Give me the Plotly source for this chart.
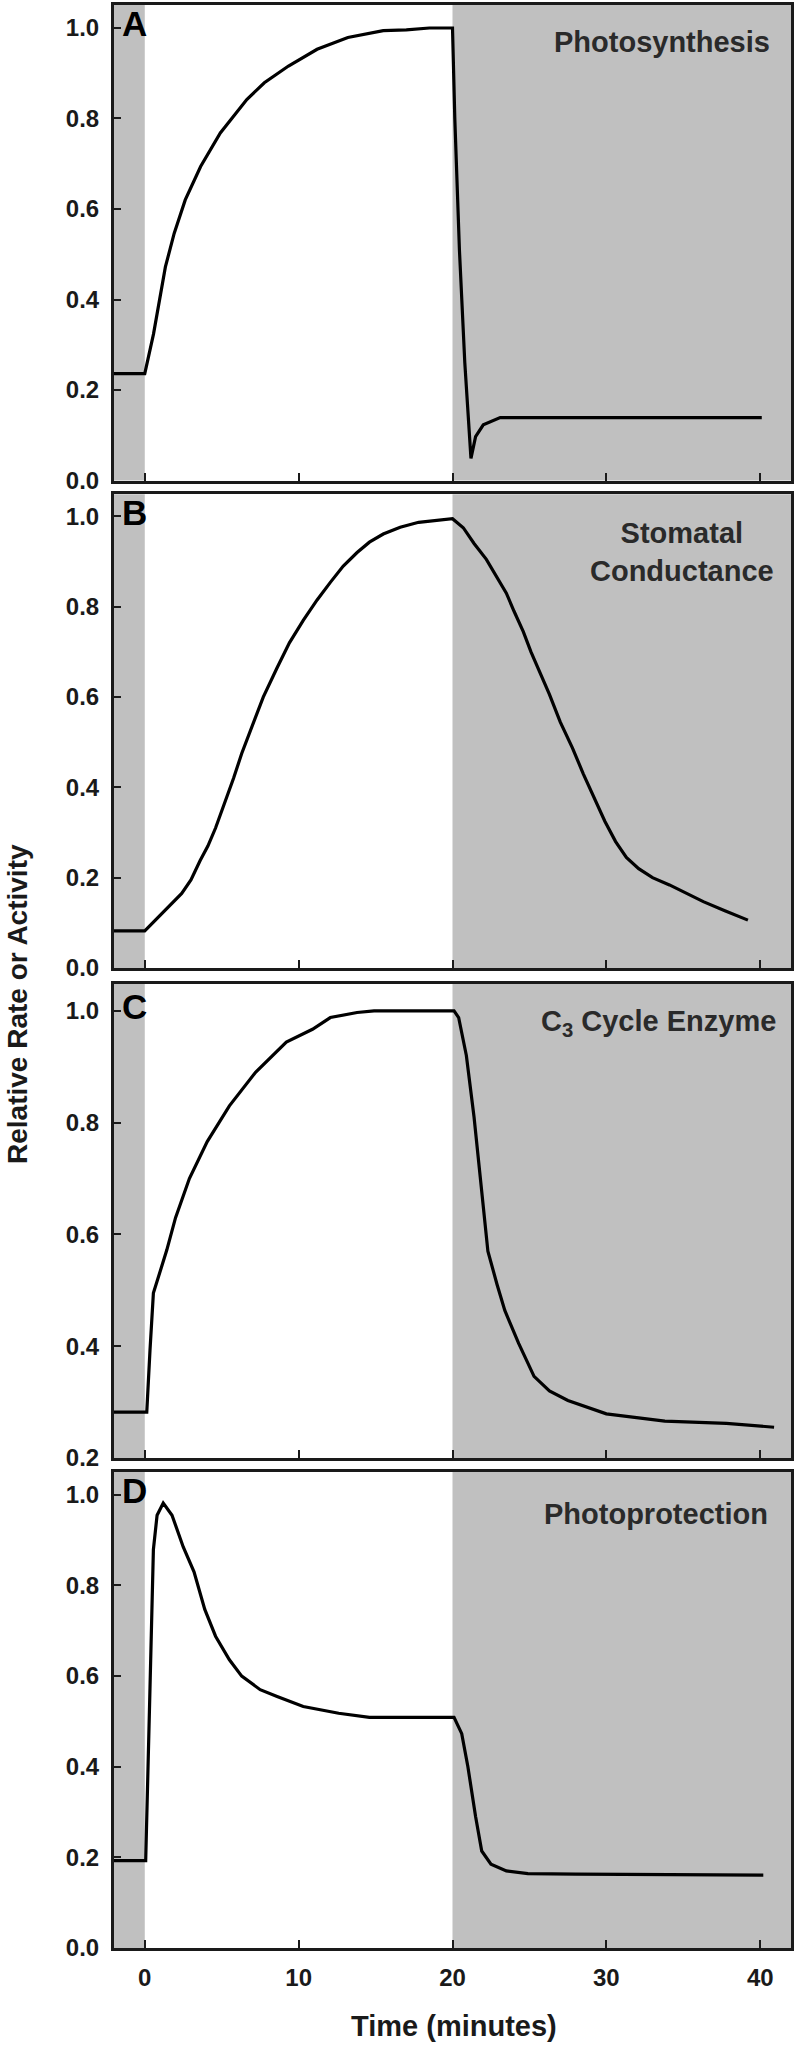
import plotly.graph_objects as go

# ---------------- data ----------------
time_a = [-2, 0, 0.57, 1.34, 1.91, 2.63, 3.63, 4.91, 6.63, 7.77, 9.34, 11.2, 13.2, 15.5, 17.0, 18.5, 20.0,
          20.15, 20.45, 20.8, 21.2, 21.5, 22.0, 23.1, 40.1]
photosynthesis = [0.236, 0.236, 0.324, 0.472, 0.546, 0.62, 0.694, 0.768, 0.842, 0.879, 0.916, 0.953, 0.979,
                  0.994, 0.996, 1.0, 1.0, 0.80, 0.51, 0.26, 0.049, 0.097, 0.123, 0.139, 0.139]

time_b = [-2, 0, 2.4, 3.0, 3.6, 4.1, 4.6, 5.2, 5.77, 6.3, 6.9, 7.7, 8.6, 9.4, 10.3, 11.2, 12.06, 12.9, 13.8,
          14.6, 15.5, 16.6, 17.8, 19.0, 20.0, 20.7, 21.4, 22.2, 22.9, 23.5, 24.0, 24.6, 25.1, 25.7, 26.3,
          27.0, 27.8, 28.5, 29.2, 29.9, 30.6, 31.3, 32.1, 33.0, 34.1, 35.2, 36.3, 37.7, 39.2]
stomatal = [0.082, 0.082, 0.165, 0.195, 0.238, 0.27, 0.31, 0.365, 0.42, 0.475, 0.53, 0.60, 0.665, 0.72, 0.77,
            0.815, 0.854, 0.89, 0.92, 0.943, 0.961, 0.976, 0.987, 0.992, 0.995, 0.975, 0.94, 0.905, 0.865,
            0.83, 0.79, 0.745, 0.70, 0.652, 0.606, 0.545, 0.487, 0.43, 0.376, 0.325, 0.28, 0.245, 0.22,
            0.20, 0.184, 0.165, 0.147, 0.127, 0.106]

time_c = [-2, 0.13, 0.34, 0.56, 1.43, 2.0, 2.9, 4.06, 5.5, 7.2, 9.2, 10.9, 12.06, 13.8, 14.9, 20.1, 20.4,
          20.9, 21.4, 21.9, 22.3, 22.9, 23.4, 24.3, 25.3, 26.3, 27.5, 30.0, 33.8, 37.8, 40.9]
c3_enzyme = [0.282, 0.282, 0.393, 0.495, 0.572, 0.63, 0.70, 0.766, 0.83, 0.89, 0.944, 0.967, 0.988, 0.997,
             1.0, 1.0, 0.988, 0.92, 0.81, 0.68, 0.57, 0.51, 0.464, 0.405, 0.346, 0.32, 0.303, 0.279, 0.266,
             0.262, 0.255]

time_d = [-2, 0.06, 0.3, 0.56, 0.8, 1.2, 1.77, 2.5, 3.2, 3.9, 4.6, 5.5, 6.3, 7.5, 8.6, 10.3, 12.6, 14.6,
          20.1, 20.6, 21.0, 21.5, 21.9, 22.5, 23.5, 24.9, 28.0, 40.2]
photoprotection = [0.193, 0.193, 0.52, 0.879, 0.955, 0.982, 0.955, 0.885, 0.83, 0.747, 0.688, 0.636, 0.60,
                   0.57, 0.555, 0.533, 0.518, 0.509, 0.509, 0.473, 0.40, 0.29, 0.214, 0.185, 0.17, 0.164,
                   0.163, 0.161]

panel_letters = ["A", "B", "C", "D"]
panel_titles = ["Photosynthesis", "Stomatal<br>Conductance", "C<sub>3</sub> Cycle Enzyme", "Photoprotection"]
x_ticks = [0, 10, 20, 30, 40]
y_ticks_full = [0.0, 0.2, 0.4, 0.6, 0.8, 1.0]
y_ticks_c = [0.2, 0.4, 0.6, 0.8, 1.0]
dark_period_1 = (-2, 0)
dark_period_2 = (20, 42)

# ---------------- layout geometry ----------------
W, H = 798, 2046
ML, MR, MT, MB = 114, 7, 5, 98
PH = H - MT - MB
PW = W - ML - MR


def ydom(top_px, bot_px):
    return [(H - MB - bot_px) / PH, (H - MB - top_px) / PH]


domains = [ydom(5, 480.5), ydom(494.3, 968), ydom(984, 1458), ydom(1471.7, 1948)]
yranges = [[0, 1.0508], [0, 1.049], [0.2, 1.048], [0, 1.051]]
letter_y = [1.009, 1.009, 1.007, 1.009]

series = [(time_a, photosynthesis), (time_b, stomatal), (time_c, c3_enzyme), (time_d, photoprotection)]

AX = "#1a1a1a"
GRAY = "#c0c0c0"
FONT = "Liberation Sans, Arial, Helvetica, sans-serif"

fig = go.Figure()
shapes = []
annotations = []

for i, (tx, vy) in enumerate(series):
    n = i + 1
    xa = "x" if n == 1 else f"x{n}"
    ya = "y" if n == 1 else f"y{n}"
    fig.add_trace(go.Scatter(x=tx, y=vy, mode="lines", xaxis=xa, yaxis=ya,
                             line=dict(color="#000000", width=3.2),
                             showlegend=False, hoverinfo="skip"))
    for (a, b) in (dark_period_1, dark_period_2):
        shapes.append(dict(type="rect", xref=xa, yref=f"{ya} domain", x0=a, x1=b, y0=0, y1=1,
                           fillcolor=GRAY, line=dict(width=0), layer="below"))
    yt = y_ticks_c if n == 3 else y_ticks_full
    xkey = "xaxis" if n == 1 else f"xaxis{n}"
    ykey = "yaxis" if n == 1 else f"yaxis{n}"
    fig.layout[xkey] = dict(domain=[0, 1], anchor=ya, range=[-2, 42], tickvals=x_ticks,
                            ticktext=[str(t) for t in x_ticks], showticklabels=(n == 4),
                            ticks="inside", ticklen=8, tickwidth=2, tickcolor=AX,
                            showline=True, linewidth=3, linecolor=AX, mirror=True,
                            showgrid=False, zeroline=False, automargin=False, ticklabelstandoff=6,
                            tickfont=dict(family=FONT, size=24, color=AX, weight="bold"))
    fig.layout[ykey] = dict(domain=domains[i], anchor=xa, range=yranges[i], tickvals=yt,
                            ticktext=[f"{v:.1f}" for v in yt],
                            ticks="inside", ticklen=7, tickwidth=2, tickcolor=AX,
                            showline=True, linewidth=3, linecolor=AX, mirror=True,
                            showgrid=False, zeroline=False, automargin=False, ticklabelstandoff=7,
                            tickfont=dict(family=FONT, size=24, color=AX, weight="bold"))
    # panel letter
    annotations.append(dict(xref=xa, yref=ya, x=-1.6, y=letter_y[i], text=panel_letters[i],
                            xanchor="left", yanchor="middle", showarrow=False,
                            font=dict(family=FONT, size=35, color="#000000", weight="bold")))

# panel titles
title_pos = [
    dict(x=40.79, y=0.969, xanchor="right", align="right"),
    dict(x=34.9, y=0.921, xanchor="center", align="center"),
    dict(x=41.15, y=0.978, xanchor="right", align="right"),
    dict(x=40.65, y=0.958, xanchor="right", align="right"),
]
for i, p in enumerate(title_pos):
    n = i + 1
    xa = "x" if n == 1 else f"x{n}"
    ya = "y" if n == 1 else f"y{n}"
    annotations.append(dict(xref=xa, yref=ya, x=p["x"], y=p["y"], text=panel_titles[i],
                            xanchor=p["xanchor"], yanchor="middle", align=p["align"], showarrow=False,
                            font=dict(family=FONT, size=29, color="#2a2a2a", weight="bold")))

# axis titles
annotations.append(dict(xref="paper", yref="paper", x=(17 - ML) / PW, y=(H - MB - 1004) / PH,
                        text="Relative Rate or Activity", textangle=-90, showarrow=False,
                        xanchor="center", yanchor="middle",
                        font=dict(family=FONT, size=28, color=AX, weight="bold")))
annotations.append(dict(xref="paper", yref="paper", x=(454 - ML) / PW, y=(H - MB - 2026) / PH,
                        text="Time (minutes)", showarrow=False, xanchor="center", yanchor="middle",
                        font=dict(family=FONT, size=29, color=AX, weight="bold")))

fig.update_layout(width=W, height=H, margin=dict(l=ML, r=MR, t=MT, b=MB, autoexpand=False),
                  paper_bgcolor="white", plot_bgcolor="white",
                  shapes=shapes, annotations=annotations, showlegend=False)

fig.write_html("out.html", config={"displayModeBar": False},
               post_script="document.body.style.margin='0px';")
